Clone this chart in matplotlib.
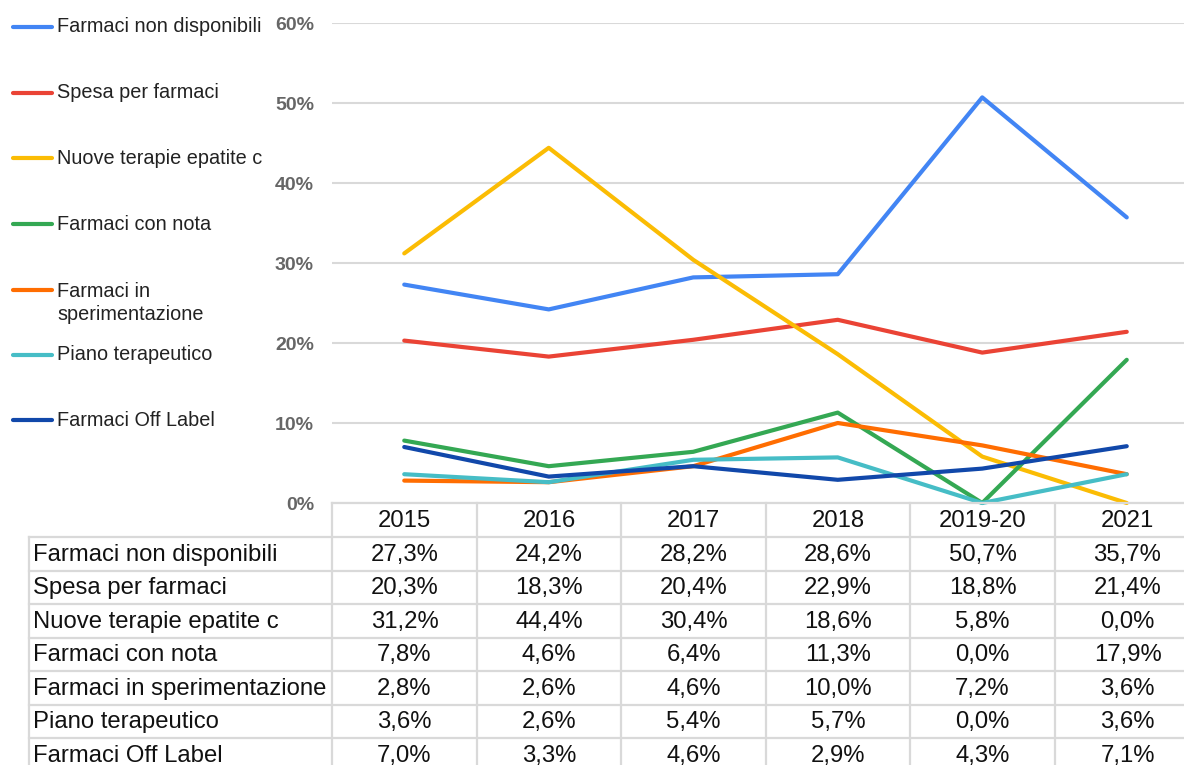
import matplotlib
matplotlib.use("Agg")
import matplotlib.pyplot as plt
from matplotlib.lines import Line2D

plt.rcParams['font.family'] = ['Liberation Sans', 'DejaVu Sans']

years = ["2015", "2016", "2017", "2018", "2019-20", "2021"]
series_names = ["Farmaci non disponibili", "Spesa per farmaci", "Nuove terapie epatite c",
                "Farmaci con nota", "Farmaci in sperimentazione", "Piano terapeutico",
                "Farmaci Off Label"]
legend_labels = ["Farmaci non disponibili", "Spesa per farmaci", "Nuove terapie epatite c",
                 "Farmaci con nota", "Farmaci in\nsperimentazione", "Piano terapeutico",
                 "Farmaci Off Label"]
farmaci_non_disponibili = [27.3, 24.2, 28.2, 28.6, 50.7, 35.7]
spesa_per_farmaci = [20.3, 18.3, 20.4, 22.9, 18.8, 21.4]
nuove_terapie_epatite_c = [31.2, 44.4, 30.4, 18.6, 5.8, 0.0]
farmaci_con_nota = [7.8, 4.6, 6.4, 11.3, 0.0, 17.9]
farmaci_in_sperimentazione = [2.8, 2.6, 4.6, 10.0, 7.2, 3.6]
piano_terapeutico = [3.6, 2.6, 5.4, 5.7, 0.0, 3.6]
farmaci_off_label = [7.0, 3.3, 4.6, 2.9, 4.3, 7.1]
values = [farmaci_non_disponibili, spesa_per_farmaci, nuove_terapie_epatite_c,
          farmaci_con_nota, farmaci_in_sperimentazione, piano_terapeutico, farmaci_off_label]
colors = ["#4285F4", "#EA4335", "#FBBC04", "#34A853", "#FF6D01", "#46BDC6", "#1148AA"]
yticks = [0, 10, 20, 30, 40, 50, 60]

W, H = 1184, 765
fig = plt.figure(figsize=(W / 100, H / 100), dpi=100)

def fx(px):
    return px / W

def fy(py):
    return 1 - py / H

# plot area: x 332..1199, y 23 (60%) .. 503 (0%)
x0, x1 = 332, 1199
y_top, y_bot = 23, 503
ax = fig.add_axes([fx(x0), fy(y_bot), fx(x1) - fx(x0), (y_bot - y_top) / H])
ax.set_xlim(-0.5, len(years) - 0.5)
ax.set_ylim(0, 60)
for s in ax.spines.values():
    s.set_visible(False)
ax.set_xticks([])
ax.set_yticks(yticks)
ax.set_yticklabels([f"{t}%" for t in yticks], fontsize=14, fontweight='bold', color='#666666')
ax.tick_params(axis='y', length=0, pad=13)
ax.grid(axis='y', color='#d9d9d9', linewidth=1.5)
ax.set_axisbelow(True)
ax.patch.set_alpha(0)

xs = list(range(len(years)))
for vals, c in zip(values, colors):
    ax.plot(xs, vals, color=c, linewidth=3.0, solid_capstyle='round',
            solid_joinstyle='round', clip_on=False, zorder=3)

# legend (manual)
leg_y = [27, 93, 158, 224, 290, 355, 420]
for lab, c, yy in zip(legend_labels, colors, leg_y):
    fig.add_artist(Line2D([fx(13), fx(52)], [fy(yy), fy(yy)], color=c, linewidth=3.0,
                          solid_capstyle='round'))
    if '\n' in lab:
        fig.text(fx(57), fy(yy - 8), lab, fontsize=14.3, color='#222222', va='top', ha='left',
                 linespacing=1.25)
    else:
        fig.text(fx(57), fy(yy), lab, fontsize=14.3, color='#222222', va='center', ha='left')

# data table
col_edges = [29, 332, 477, 621, 766, 910, 1055, 1200]
row_edges = [503, 537, 570.5, 604, 637.5, 671, 704.5, 738, 771.5]
grid_c = '#d9d9d9'
lw = 1.6
fig.add_artist(Line2D([fx(col_edges[1]), fx(col_edges[-1])], [fy(row_edges[0])] * 2, color=grid_c, linewidth=lw))
for ry in row_edges[1:]:
    fig.add_artist(Line2D([fx(col_edges[0]), fx(col_edges[-1])], [fy(ry)] * 2, color=grid_c, linewidth=lw))
fig.add_artist(Line2D([fx(col_edges[0])] * 2, [fy(row_edges[1]), fy(row_edges[-1])], color=grid_c, linewidth=lw))
for cx in col_edges[1:]:
    fig.add_artist(Line2D([fx(cx)] * 2, [fy(row_edges[0]), fy(row_edges[-1])], color=grid_c, linewidth=lw))

tfs = 17.2
for j, yr in enumerate(years):
    cxm = (col_edges[j + 1] + col_edges[j + 2]) / 2
    cym = (row_edges[0] + row_edges[1]) / 2 + 1
    fig.text(fx(cxm), fy(cym), yr, fontsize=tfs, ha='center', va='center', color='#111111')
for i, (name, vals) in enumerate(zip(series_names, values)):
    cym = (row_edges[i + 1] + row_edges[i + 2]) / 2 + 1
    fig.text(fx(col_edges[0] + 4), fy(cym), name, fontsize=tfs, ha='left', va='center', color='#111111')
    for j, v in enumerate(vals):
        cxm = (col_edges[j + 1] + col_edges[j + 2]) / 2
        fig.text(fx(cxm), fy(cym), f"{v:.1f}%".replace('.', ','), fontsize=tfs,
                 ha='center', va='center', color='#111111')

fig.savefig("out.png", dpi=100, facecolor='white')
